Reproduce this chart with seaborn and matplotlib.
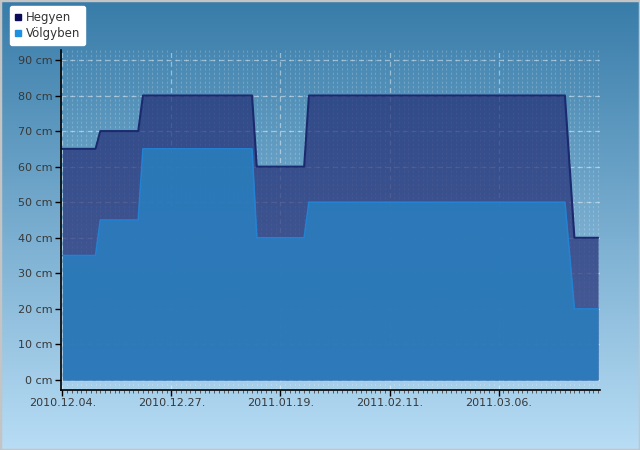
import numpy as np
import pandas as pd
import seaborn as sns
import matplotlib.pyplot as plt
import matplotlib.dates as mdates
from matplotlib.lines import Line2D

sns.set_theme(style="white")
plt.rcParams['font.family'] = ['DejaVu Sans']

# snow depth data (cm)
dates = pd.to_datetime([
    "2010-12-04", "2010-12-11", "2010-12-12", "2010-12-20", "2010-12-21",
    "2011-01-13", "2011-01-14", "2011-01-24", "2011-01-25",
    "2011-03-20", "2011-03-22", "2011-03-27",
])
hegyen = [65, 65, 70, 70, 80, 80, 60, 60, 80, 80, 40, 40]
volgyben = [35, 35, 45, 45, 65, 65, 40, 40, 50, 50, 20, 20]
tick_dates = pd.to_datetime(["2010-12-04", "2010-12-27", "2011-01-19", "2011-02-11", "2011-03-06"])
y_ticks = list(range(0, 100, 10))

df = pd.DataFrame({"date": dates, "Hegyen": hegyen, "Völgyben": volgyben})

fig = plt.figure(figsize=(6.4, 4.5), dpi=100)

# gradient background
bg = fig.add_axes([0, 0, 1, 1], zorder=-1)
grad = np.linspace(0, 1, 256).reshape(-1, 1)
c_top = np.array([0x38, 0x7c, 0xa9]) / 255
c_bot = np.array([0xb8, 0xdd, 0xf5]) / 255
img = c_top + (c_bot - c_top) * grad[..., None]
bg.imshow(img, aspect="auto", extent=[0, 1, 0, 1], origin="upper")
bg.set_xlim(0, 1)
bg.set_ylim(0, 1)
bg.axis("off")
bg.add_patch(plt.Rectangle((0, 0), 1, 1, fill=False, ec="#c4c4c4", lw=2.5, transform=bg.transAxes))

ax = fig.add_axes([0.0948, 0.1333, 0.8427, 0.7556])
ax.patch.set_alpha(0)

ax.fill_between(df["date"], df["Hegyen"], color="#232d75", alpha=0.7, lw=0, zorder=2)
ax.fill_between(df["date"], df["Völgyben"], color="#2a7ebe", alpha=0.88, lw=0, zorder=3)
sns.lineplot(data=df, x="date", y="Hegyen", ax=ax, color="#1b2a6e", lw=1.5, zorder=4)
sns.lineplot(data=df, x="date", y="Völgyben", ax=ax, color="#2382d2", lw=1.2, zorder=5)

x0 = mdates.date2num(pd.Timestamp("2010-12-04"))
ax.set_xlim(x0 - 0.36, x0 + 113.4)
ax.set_ylim(-2.8, 92.8)

ax.xaxis.set_major_locator(plt.FixedLocator(mdates.date2num(tick_dates)))
ax.xaxis.set_major_formatter(mdates.DateFormatter("%Y.%m.%d."))
ax.xaxis.set_minor_locator(mdates.DayLocator())
ax.set_yticks(y_ticks)
ax.set_yticklabels([f"{v} cm" for v in y_ticks])

ax.grid(True, which="major", axis="both", color="white", alpha=0.45, ls=(0, (4, 3)), lw=0.9, zorder=1)
ax.grid(True, which="minor", axis="x", color="white", alpha=0.2, ls=(0, (2, 2)), lw=0.8, zorder=1)

for s in ["top", "right"]:
    ax.spines[s].set_visible(False)
for s in ["left", "bottom"]:
    ax.spines[s].set_color("black")
    ax.spines[s].set_linewidth(1.2)
    ax.spines[s].set_zorder(6)

ax.tick_params(axis="both", which="major", direction="out", length=4, width=1, color="black",
               labelsize=8, labelcolor="#383838", left=True, bottom=True, pad=2)
ax.tick_params(axis="x", which="minor", direction="out", length=2, width=0.6, color="#444444", bottom=True)
ax.set_xlabel("")
ax.set_ylabel("")

handles = [
    Line2D([], [], marker="s", ls="", color="#0b0b5c", markersize=5),
    Line2D([], [], marker="s", ls="", color="#1e90e0", markersize=5),
]
leg = fig.legend(handles, ["Hegyen", "Völgyben"], loc="upper left", bbox_to_anchor=(0.015, 0.987),
                 fontsize=8.5, frameon=True, fancybox=True, framealpha=1, edgecolor="white",
                 handlelength=0.6, handletextpad=0.3, borderpad=0.45, labelspacing=0.25,
                 borderaxespad=0)
leg.get_frame().set_facecolor("white")
for t in leg.get_texts():
    t.set_color("#333333")

fig.savefig("out.png", dpi=100)
